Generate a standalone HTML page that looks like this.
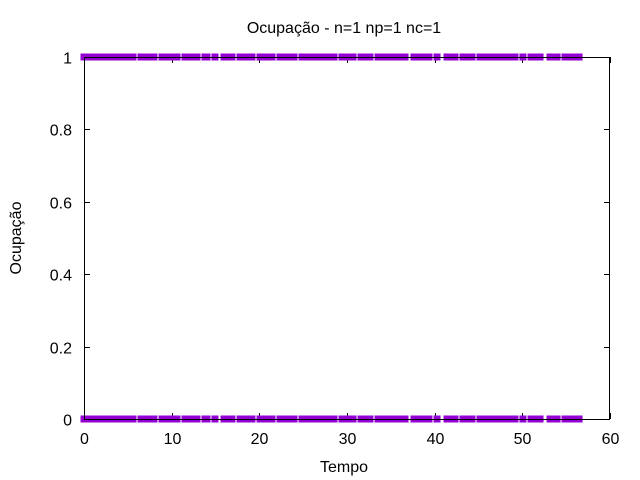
<!DOCTYPE html>
<html><head><meta charset="utf-8"><style>
body{margin:0;background:#fff}
svg{display:block;font-family:"Liberation Sans",sans-serif;font-size:16px}
</style></head><body>
<svg id="chart" width="640" height="480">
<rect width="640" height="480" fill="#fff"/>
<text x="344" y="33" text-anchor="middle">Ocupação - n=1 np=1 nc=1</text>
<text x="344" y="472" text-anchor="middle">Tempo</text>
<text x="0" y="0" transform="translate(21,238) rotate(-90)" text-anchor="middle">Ocupação</text>
<g id="ticks"></g>
<g id="marks"></g>
<rect x="84.5" y="57.5" width="525" height="362" fill="none" stroke="#000"/>
</svg>
<script>
const times = [0,0.57,1.14,1.71,2.28,2.85,3.42,3.99,4.56,5.13,5.59,6.50,7.07,7.64,7.98,8.90,9.47,10.04,10.61,11.52,12.09,12.66,12.89,13.80,14.03,14.94,15.97,16.43,16.88,17.80,18.37,18.94,19.16,20.08,20.65,21.22,21.45,22.36,22.93,23.50,23.96,24.87,25.44,26.01,26.58,27.15,27.72,28.29,28.52,29.43,30.00,30.69,31.60,32.17,32.62,33.54,34.11,34.68,35.25,35.82,36.39,36.62,37.64,38.21,38.78,39.35,40.27,41.41,41.98,42.32,43.23,43.80,44.26,45.17,45.74,46.31,46.88,47.45,48.02,48.59,49.16,50.07,50.99,51.56,52.02,53.16,53.96,54.87,55.44,56.01,56.47];
const levels = [0,1];
const xTicks = [0,10,20,30,40,50,60];
const yTicks = [0,0.2,0.4,0.6,0.8,1];
const yTickLabels = ["0","0.2","0.4","0.6","0.8","1"];

const NS="http://www.w3.org/2000/svg";
const X0=84,X1=610,Y0=419,Y1=57;
const xs=v=>X0+(v-0)/(60-0)*(X1-X0);
const ys=v=>Y0-(v-0)/(1-0)*(Y0-Y1);
function mk(tag,attrs,parent){const e=document.createElementNS(NS,tag);for(const k in attrs)e.setAttribute(k,attrs[k]);parent.appendChild(e);return e;}
const tg=document.getElementById('ticks');
xTicks.forEach(v=>{
  const x=Math.round(xs(v))+0.5;
  const l=mk('path',{d:`M${x} 419V413M${x} 57V63`,stroke:'#000'},tg);
  
  
  const t=mk('text',{x:x,y:444,'text-anchor':'middle'},tg);t.textContent=v;
  
  
});
yTicks.forEach((v,i)=>{
  const y=Math.round(ys(v))+0.5;
  const l=mk('path',{d:`M84 ${y}H90M610 ${y}H604`,stroke:'#000'},tg);
  
  
  const t=mk('text',{x:72,y:y+6,'text-anchor':'end'},tg);t.textContent=yTickLabels[i];
  
  
});
const mg=document.getElementById('marks');
levels.forEach(lv=>{
  times.forEach(t=>{
    const cx=xs(t),cy=ys(lv);
    const r=mk('rect',{x:cx-3.5,y:cy-3.5,width:7,height:7,fill:'#9400d3'},mg);
    
    
  });
});
</script>
</body></html>
